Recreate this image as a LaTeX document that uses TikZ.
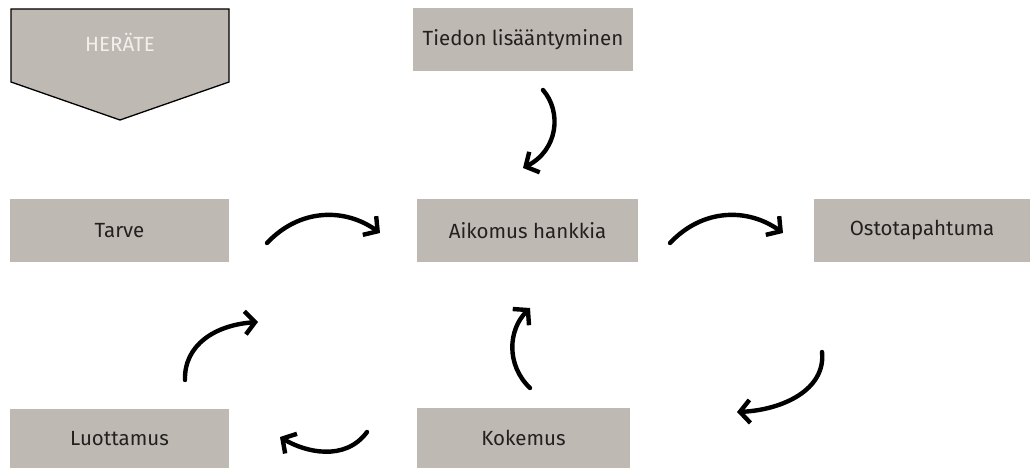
\documentclass[tikz,border=0pt]{standalone}
\usepackage{fontspec}
\setmainfont{Fira Sans}
\usetikzlibrary{arrows.meta}
\definecolor{boxgray}{RGB}{190,185,179}
\definecolor{txt}{RGB}{35,33,32}
\definecolor{lighttxt}{RGB}{242,240,236}
\tikzset{
  box/.style={fill=boxgray, draw=none, inner sep=0pt, text=txt, font=\fontsize{20.5}{24}\selectfont},
  hand/.style={line width=4.4pt, line cap=round, draw=black,
    -{Straight Barb[length=10pt,width=23pt,line width=4.4pt]}}
}
\begin{document}
\begin{tikzpicture}[x=1pt,y=-1pt]
\useasboundingbox (0,0) rectangle (1030,468);
\fill[white] (0,0) rectangle (1030,468);
% HERÄTE pentagon
\draw[fill=boxgray, line width=1.3pt, line join=miter] (11,9) -- (229,9) -- (229,82) -- (120,120) -- (11,82) -- cycle;
\node[text=lighttxt, font=\fontsize{20.5}{24}\selectfont] (herate) at (120,42) {HERÄTE};
% boxes
\node[box, minimum width=220pt, minimum height=63pt] (tiedon) at (523,39.5) {Tiedon lisääntyminen};
\node[box, minimum width=219pt, minimum height=63pt] (tarve) at (119.5,230.5) {Tarve};
\node[box, minimum width=221pt, minimum height=63pt] (aikomus) at (527.5,230.5) {Aikomus hankkia};
\node[box, minimum width=216pt, minimum height=63pt] (osto) at (922,230.5) {Ostotapahtuma};
\node[box, minimum width=219pt, minimum height=59pt] (luottamus) at (119.5,438.5) {Luottamus};
\node[box, minimum width=213pt, minimum height=60pt] (kokemus) at (523.5,438) {Kokemus};
% arrow endpoints
\coordinate (a1s) at (543,90);   \coordinate (a1e) at (523,168);
\coordinate (a2s) at (267,243);  \coordinate (a2e) at (380,233);
\coordinate (a3s) at (670,243);  \coordinate (a3e) at (783,233);
\coordinate (a4s) at (185,380);  \coordinate (a4e) at (258,322);
\coordinate (a5s) at (530,388);  \coordinate (a5e) at (530,308);
\coordinate (a6s) at (822,352);  \coordinate (a6e) at (737,412);
\coordinate (a7s) at (367,432);  \coordinate (a7e) at (280,437);
% arrows
\draw[hand] (a1s) .. controls (562,112) and (558,150) .. (a1e);
\draw[hand] (a2s) .. controls (300,208) and (345,208) .. (a2e);
\draw[hand] (a3s) .. controls (703,208) and (748,208) .. (a3e);
\draw[hand] (a4s) .. controls (184,345) and (215,325) .. (a4e);
\draw[hand] (a5s) .. controls (506,365) and (508,330) .. (a5e);
\draw[hand] (a6s) .. controls (826,390) and (782,410) .. (a6e);
\draw[hand] (a7s) .. controls (345,462) and (305,452) .. (a7e);
\end{tikzpicture}
\end{document}
